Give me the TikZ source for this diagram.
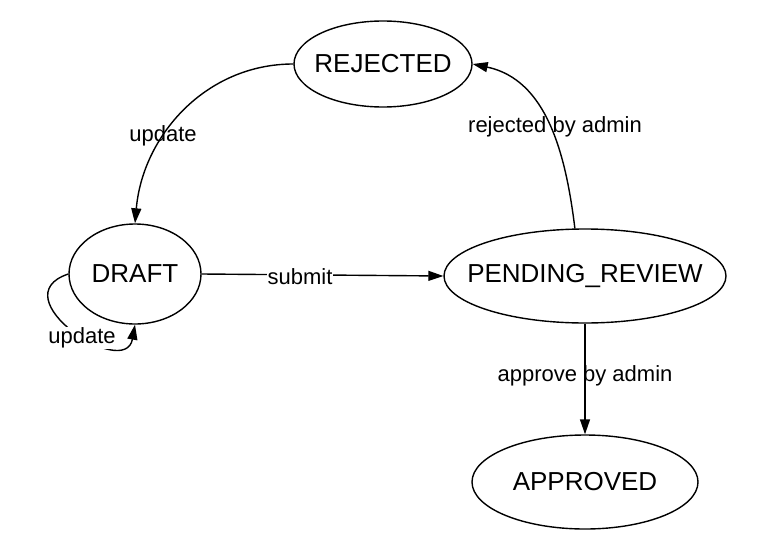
\documentclass[tikz,border=0pt]{standalone}
\usepackage{fontspec}
\setmainfont{Liberation Sans}
\usetikzlibrary{shapes.geometric,arrows.meta}
\begin{document}
\begin{tikzpicture}[x=1pt,y=1pt,line width=1.4pt,
  state/.style={draw=black,ellipse,inner sep=0pt,
    label={[font=\fontsize{26}{30}\selectfont]center:#1}},
  lbl/.style={inner sep=1pt,font=\fontsize{22}{26}\selectfont},
  trans/.style={-{Triangle[length=15pt,width=10pt]}}]
\useasboundingbox (0,0) rectangle (783,-559);
% states
\node [state=REJECTED,minimum width=178pt,minimum height=86pt] (rejected) at (383,-64) {};
\node [state=DRAFT,minimum width=132pt,minimum height=100pt] (draft) at (135,-274) {};
\node [state=PENDING\_REVIEW,minimum width=282pt,minimum height=94pt] (pending) at (585,-276) {};
\node [state=APPROVED,minimum width=226pt,minimum height=94pt] (approved) at (585,-482) {};
% transitions
\draw [trans] (rejected.west) to[out=180,in=85] (draft.north);
\node [lbl] (upd1) at (163,-136) {update};
\draw [trans] (draft.east) -- (pending.west);
\node [lbl,fill=white] (submit) at (300,-277) {submit};
\draw [trans] (pending.102) to[out=97,in=-12] (rejected.east);
\node [lbl] (rejadm) at (555,-127) {rejected by admin};
\draw [trans] (pending.south) -- (approved.north);
\node [lbl] (appadm) at (585,-376) {approve by admin};
\draw [trans] (draft.west) .. controls +(-69,-23) and +(-10,-56) .. (draft.south);
\node [lbl,fill=white] (upd2) at (82,-338) {update};
\end{tikzpicture}
\end{document}
